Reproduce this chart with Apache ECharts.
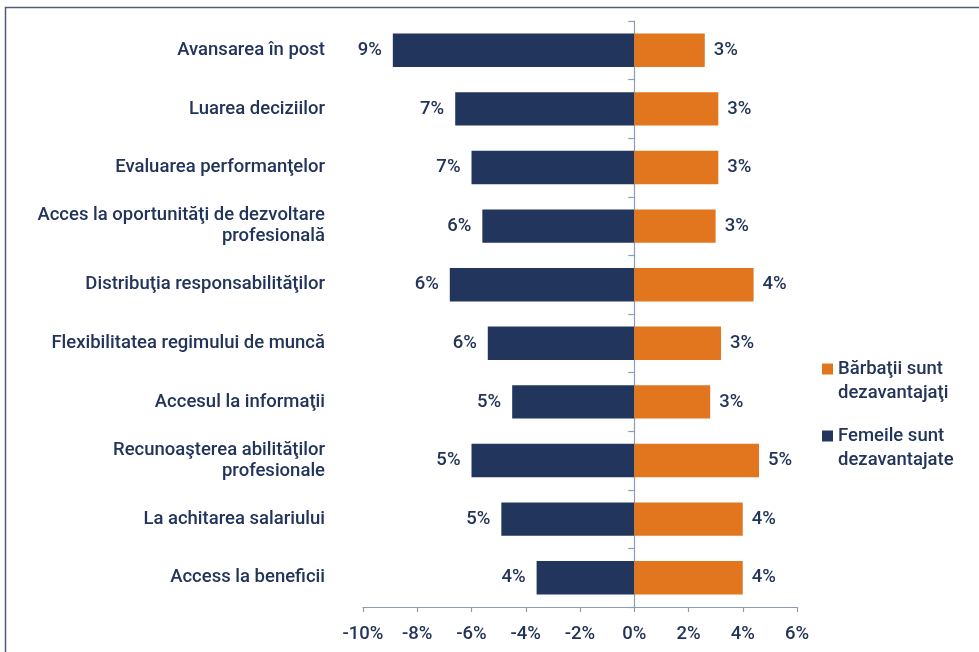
<!DOCTYPE html>
<html>
<head>
<meta charset="utf-8">
<script src="https://cdn.jsdelivr.net/npm/echarts@6/dist/echarts.min.js"></script>
<style>
html,body{margin:0;padding:0;background:#fff;}
#chart{width:979px;height:652px;}
</style>
</head>
<body>
<div id="chart"></div>
<script>
const categories = [
  'Avansarea în post',
  'Luarea deciziilor',
  'Evaluarea performanţelor',
  'Acces la oportunităţi de dezvoltare\nprofesională',
  'Distribuţia responsabilităţilor',
  'Flexibilitatea regimului de muncă',
  'Accesul la informaţii',
  'Recunoaşterea abilităţilor\nprofesionale',
  'La achitarea salariului',
  'Access la beneficii'
];
const femeiValues = [-8.9, -6.6, -6.0, -5.6, -6.8, -5.4, -4.5, -6.0, -4.9, -3.6];
const barbatiValues = [2.6, 3.1, 3.1, 3.0, 4.4, 3.2, 2.8, 4.6, 4.0, 4.0];
const femeiLabels = ['9%', '7%', '7%', '6%', '6%', '6%', '5%', '5%', '5%', '4%'];
const barbatiLabels = ['3%', '3%', '3%', '3%', '4%', '3%', '3%', '5%', '4%', '4%'];
const xTicks = { min: -10, max: 6, interval: 2 };
const seriesNames = ['Bărbaţii sunt\ndezavantajaţi', 'Femeile sunt\ndezavantajate'];

const textColor = '#22345a';
const axisColor = '#8f9cb6';
const font = 'Roboto';
const fs = 18.5;

const chart = echarts.init(document.getElementById('chart'), null, { renderer: 'canvas' });
chart.setOption({
  animation: false,
  backgroundColor: '#ffffff',
  textStyle: { fontFamily: font },
  graphic: [{
    type: 'rect',
    shape: { x: 5.5, y: 7.5, width: 1000, height: 700 },
    style: { fill: 'none', stroke: '#4f5b78', lineWidth: 1.5 },
    silent: true
  }],
  grid: { left: 363, right: 182, top: 21, bottom: 45, containLabel: false },
  legend: {
    orient: 'vertical',
    left: 817,
    top: 328,
    itemWidth: 11,
    itemHeight: 11,
    itemGap: -5,
    icon: 'rect',
    data: [seriesNames[0], seriesNames[1]],
    formatter: name => '\n' + name,
    textStyle: {
      color: textColor, fontSize: fs, fontWeight: 500, fontFamily: font,
      lineHeight: 24
    }
  },
  xAxis: {
    type: 'value',
    min: xTicks.min, max: xTicks.max, interval: xTicks.interval,
    axisLine: { show: true, onZero: false, lineStyle: { color: axisColor, width: 1.2 } },
    axisTick: { show: true, length: 5, lineStyle: { color: axisColor, width: 1.2 } },
    splitLine: { show: false },
    axisLabel: {
      color: textColor, fontSize: fs, fontWeight: 500, margin: 18,
      formatter: v => v + '%'
    }
  },
  yAxis: [{
    type: 'category',
    data: categories,
    inverse: true,
    position: 'left',
    axisLine: { show: true, onZero: true, lineStyle: { color: axisColor, width: 1.2 } },
    axisTick: { show: true, length: 6, lineStyle: { color: axisColor, width: 1.2 } },
    axisLabel: { show: false }
  }, {
    type: 'category',
    data: categories,
    inverse: true,
    position: 'left',
    axisLine: { show: false, onZero: false },
    axisTick: { show: false },
    axisLabel: {
      show: true, color: textColor, fontSize: fs, fontWeight: 500,
      margin: 38, lineHeight: 21, align: 'right'
    }
  }],
  series: [{
    name: seriesNames[1],
    type: 'bar',
    stack: 'all',
    yAxisIndex: 0,
    data: femeiValues,
    barWidth: '57%',
    itemStyle: { color: '#22355c' },
    label: {
      show: true, position: 'left', distance: 11,
      color: textColor, fontSize: fs, fontWeight: 500,
      formatter: p => femeiLabels[p.dataIndex]
    },
    z: 2
  }, {
    name: seriesNames[0],
    type: 'bar',
    stack: 'all',
    yAxisIndex: 0,
    data: barbatiValues,
    barWidth: '57%',
    itemStyle: { color: '#e2761e' },
    label: {
      show: true, position: 'right', distance: 9,
      color: textColor, fontSize: fs, fontWeight: 500,
      formatter: p => barbatiLabels[p.dataIndex]
    },
    z: 2
  }]
});
</script>
</body>
</html>
